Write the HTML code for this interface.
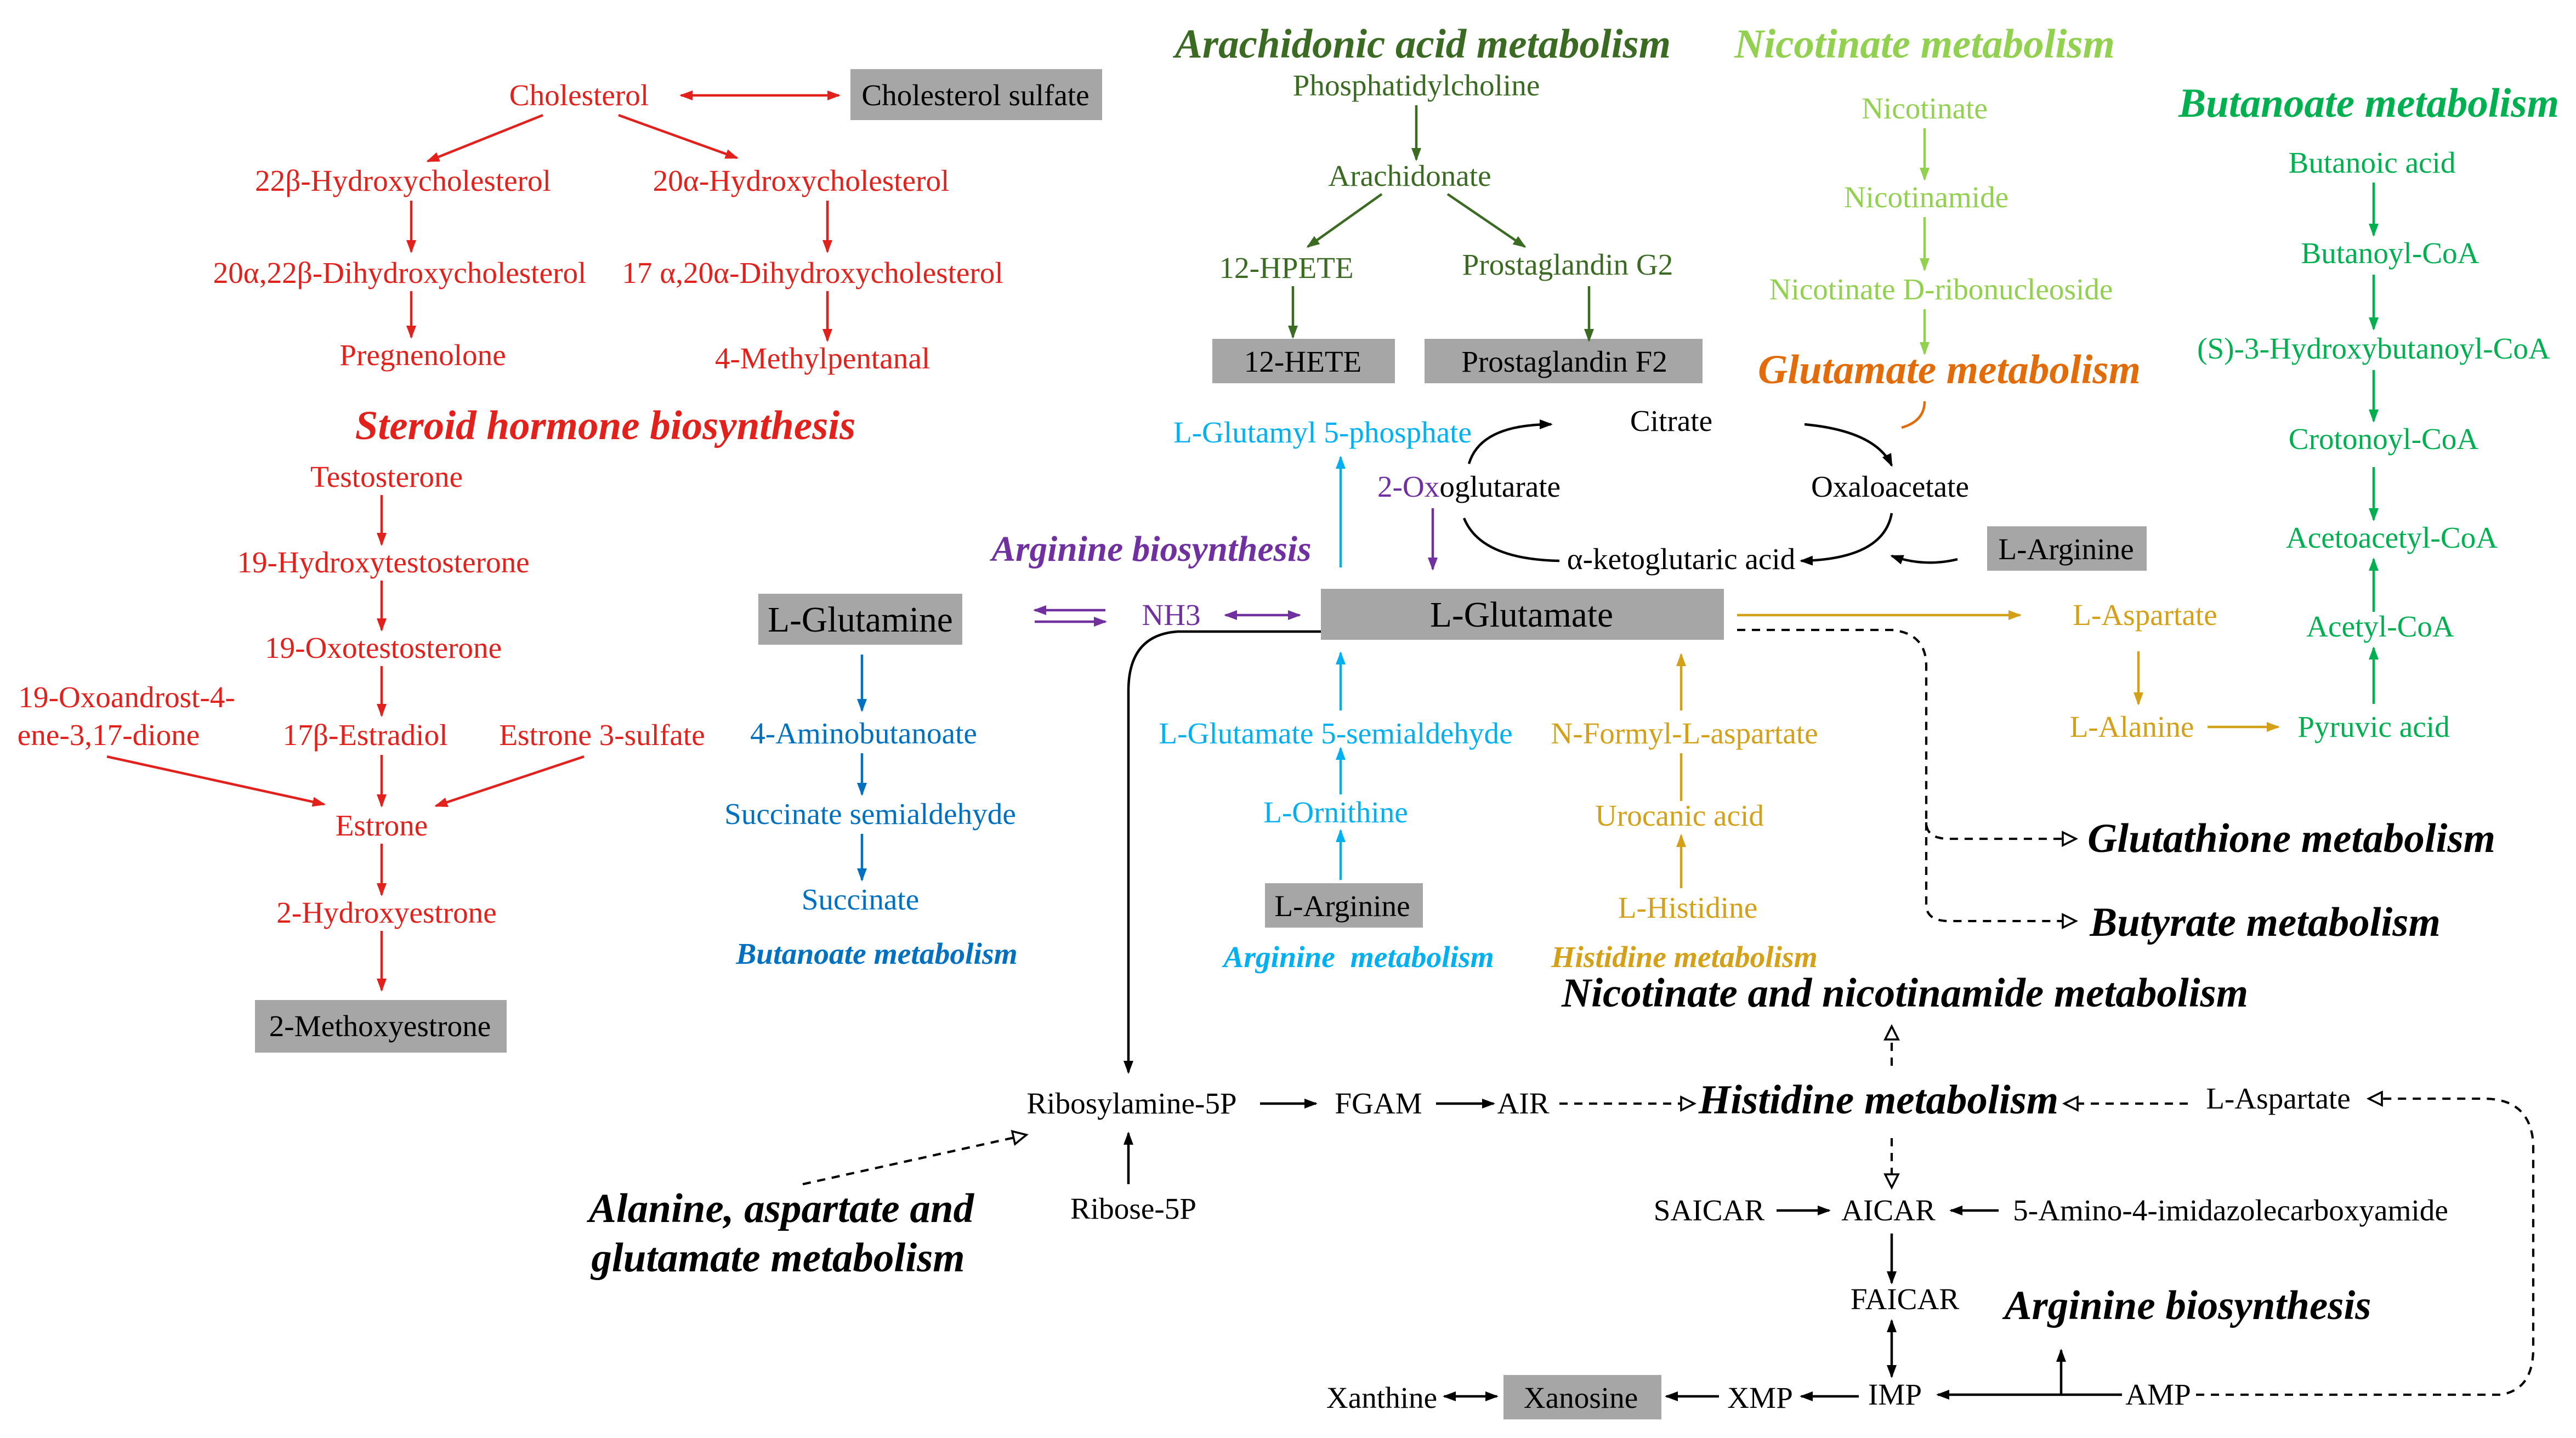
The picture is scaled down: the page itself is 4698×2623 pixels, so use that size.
<!DOCTYPE html>
<html><head><meta charset="utf-8"><style>
html,body{margin:0;padding:0;background:#fff;}
svg{display:block;}
text{font-family:"Liberation Serif",serif;font-size:18.4px;text-anchor:middle;}
.t{font-weight:bold;font-style:italic;font-size:25px;}
.s{font-weight:bold;font-style:italic;font-size:18.5px;}
</style></head><body>
<svg width="4698" height="2623" viewBox="0 0 1566 874.3" xmlns="http://www.w3.org/2000/svg">
<defs>
<marker id="r" markerWidth="8" markerHeight="8" refX="7" refY="4" orient="auto-start-reverse" markerUnits="userSpaceOnUse"><path d="M0,1 L8,4 L0,7z" fill="#e3211c"/></marker>
<marker id="dg" markerWidth="8" markerHeight="8" refX="7" refY="4" orient="auto-start-reverse" markerUnits="userSpaceOnUse"><path d="M0,1 L8,4 L0,7z" fill="#3b6b22"/></marker>
<marker id="lg" markerWidth="8" markerHeight="8" refX="7" refY="4" orient="auto-start-reverse" markerUnits="userSpaceOnUse"><path d="M0,1 L8,4 L0,7z" fill="#92d050"/></marker>
<marker id="g" markerWidth="8" markerHeight="8" refX="7" refY="4" orient="auto-start-reverse" markerUnits="userSpaceOnUse"><path d="M0,1 L8,4 L0,7z" fill="#00b050"/></marker>
<marker id="c" markerWidth="8" markerHeight="8" refX="7" refY="4" orient="auto-start-reverse" markerUnits="userSpaceOnUse"><path d="M0,1 L8,4 L0,7z" fill="#00b0f0"/></marker>
<marker id="b" markerWidth="8" markerHeight="8" refX="7" refY="4" orient="auto-start-reverse" markerUnits="userSpaceOnUse"><path d="M0,1 L8,4 L0,7z" fill="#0070c0"/></marker>
<marker id="p" markerWidth="8" markerHeight="8" refX="7" refY="4" orient="auto-start-reverse" markerUnits="userSpaceOnUse"><path d="M0,1 L8,4 L0,7z" fill="#7030a0"/></marker>
<marker id="y" markerWidth="8" markerHeight="8" refX="7" refY="4" orient="auto-start-reverse" markerUnits="userSpaceOnUse"><path d="M0,1 L8,4 L0,7z" fill="#d4a017"/></marker>
<marker id="k" markerWidth="8" markerHeight="8" refX="7" refY="4" orient="auto-start-reverse" markerUnits="userSpaceOnUse"><path d="M0,1 L8,4 L0,7z" fill="#000"/></marker>
<marker id="ko" markerWidth="11" markerHeight="10" refX="9" refY="5" orient="auto-start-reverse" markerUnits="userSpaceOnUse"><path d="M1,1 L9,5 L1,9z" fill="#fff" stroke="#000" stroke-width="1.2"/></marker>
</defs>

<g fill="#a6a6a6">
<rect x="517" y="42" width="153" height="31"/>
<rect x="155" y="608" width="153" height="32"/>
<rect x="737" y="206" width="111" height="27"/>
<rect x="866" y="206" width="169" height="27"/>
<rect x="1208" y="320" width="97" height="27"/>
<rect x="461" y="361" width="124" height="31"/>
<rect x="803" y="358" width="245" height="31"/>
<rect x="769" y="537" width="96" height="27"/>
<rect x="914" y="836" width="96" height="27"/>
</g>

<g fill="#e3211c">
<text x="352" y="64">Cholesterol</text>
<text x="245" y="116">22β-Hydroxycholesterol</text>
<text x="487" y="116">20α-Hydroxycholesterol</text>
<text x="243" y="172">20α,22β-Dihydroxycholesterol</text>
<text x="494" y="172">17 α,20α-Dihydroxycholesterol</text>
<text x="257" y="222">Pregnenolone</text>
<text x="500" y="224">4-Methylpentanal</text>
<text class="t" x="368" y="267">Steroid hormone biosynthesis</text>
<text x="235" y="296">Testosterone</text>
<text x="233" y="348">19-Hydroxytestosterone</text>
<text x="233" y="400">19-Oxotestosterone</text>
<text x="77" y="430">19-Oxoandrost-4-</text>
<text x="66" y="453">ene-3,17-dione</text>
<text x="222" y="453">17β-Estradiol</text>
<text x="366" y="453">Estrone 3-sulfate</text>
<text x="232" y="508">Estrone</text>
<text x="235" y="561">2-Hydroxyestrone</text>
</g>
<text x="593" y="64">Cholesterol sulfate</text>
<text x="231" y="630">2-Methoxyestrone</text>
<g stroke="#e3211c" stroke-width="1.5" fill="none" marker-end="url(#r)">
<line x1="414" y1="58" x2="510" y2="58" marker-start="url(#r)"/>
<line x1="330" y1="70" x2="260" y2="98"/>
<line x1="376" y1="70" x2="448" y2="96"/>
<line x1="250" y1="122" x2="250" y2="153"/>
<line x1="250" y1="177" x2="250" y2="205"/>
<line x1="503" y1="122" x2="503" y2="153"/>
<line x1="503" y1="177" x2="503" y2="207"/>
<line x1="232" y1="301" x2="232" y2="331"/>
<line x1="232" y1="353" x2="232" y2="383"/>
<line x1="232" y1="405" x2="232" y2="435"/>
<line x1="232" y1="459" x2="232" y2="490"/>
<line x1="232" y1="513" x2="232" y2="544"/>
<line x1="232" y1="566" x2="232" y2="602"/>
<line x1="65" y1="460" x2="197" y2="489"/>
<line x1="355" y1="460" x2="265" y2="490"/>
</g>

<g fill="#3b6b22">
<text class="t" x="865" y="35">Arachidonic acid metabolism</text>
<text x="861" y="58">Phosphatidylcholine</text>
<text x="857" y="113">Arachidonate</text>
<text x="782" y="169">12-HPETE</text>
<text x="953" y="167">Prostaglandin G2</text>
</g>
<text x="792" y="226">12-HETE</text>
<text x="951" y="226">Prostaglandin F2</text>
<g stroke="#3b6b22" stroke-width="1.5" marker-end="url(#dg)">
<line x1="861" y1="64" x2="861" y2="97"/>
<line x1="840" y1="118" x2="795" y2="150"/>
<line x1="880" y1="118" x2="927" y2="150"/>
<line x1="786" y1="174" x2="786" y2="205"/>
<line x1="966" y1="174" x2="966" y2="207"/>
</g>

<g fill="#92d050">
<text class="t" x="1170" y="35">Nicotinate metabolism</text>
<text x="1170" y="72">Nicotinate</text>
<text x="1171" y="126">Nicotinamide</text>
<text x="1180" y="182">Nicotinate D-ribonucleoside</text>
</g>
<g stroke="#92d050" stroke-width="1.5" marker-end="url(#lg)">
<line x1="1170" y1="78" x2="1170" y2="109"/>
<line x1="1170" y1="132" x2="1170" y2="164"/>
<line x1="1170" y1="188" x2="1170" y2="215"/>
</g>
<text class="t" x="1185" y="233" fill="#e26b0a">Glutamate metabolism</text>
<path d="M1170,244 Q1170,256 1156,260" stroke="#e26b0a" stroke-width="1.5" fill="none"/>

<g fill="#00b050">
<text class="t" x="1440" y="71">Butanoate metabolism</text>
<text x="1442" y="105">Butanoic acid</text>
<text x="1453" y="160">Butanoyl-CoA</text>
<text x="1443" y="218">(S)-3-Hydroxybutanoyl-CoA</text>
<text x="1449" y="273">Crotonoyl-CoA</text>
<text x="1454" y="333">Acetoacetyl-CoA</text>
<text x="1447" y="387">Acetyl-CoA</text>
<text x="1443" y="448">Pyruvic acid</text>
</g>
<g stroke="#00b050" stroke-width="1.5" marker-end="url(#g)">
<line x1="1443" y1="111" x2="1443" y2="143"/>
<line x1="1443" y1="167" x2="1443" y2="200"/>
<line x1="1443" y1="225" x2="1443" y2="256"/>
<line x1="1443" y1="284" x2="1443" y2="316"/>
<line x1="1443" y1="372" x2="1443" y2="340"/>
<line x1="1443" y1="428" x2="1443" y2="394"/>
</g>

<text x="1016" y="262">Citrate</text>
<text x="1149" y="302">Oxaloacetate</text>
<text x="1022" y="346">α-ketoglutaric acid</text>
<text x="893" y="302"><tspan fill="#7030a0">2-Ox</tspan>oglutarate</text>
<text x="1256" y="340">L-Arginine</text>
<g stroke="#000" stroke-width="1.5" fill="none" marker-end="url(#k)">
<path d="M893,282 Q900,258 943,258"/>
<path d="M1097,258 Q1140,262 1150,283"/>
<path d="M1150,312 Q1145,340 1095,341"/>
<path d="M948,341 Q900,340 890,315" marker-end="none"/>
<path d="M1190,340 Q1170,345 1150,338"/>
</g>

<text x="700" y="341" class="t" style="font-size:21.8px" fill="#7030a0">Arginine biosynthesis</text>
<text x="804" y="269" fill="#00b0f0">L-Glutamyl 5-phosphate</text>
<line x1="815" y1="345" x2="815" y2="278" stroke="#00b0f0" stroke-width="1.5" marker-end="url(#c)"/>
<line x1="871" y1="309" x2="871" y2="346" stroke="#7030a0" stroke-width="1.5" marker-end="url(#p)"/>
<text x="523" y="384" style="font-size:21.8px">L-Glutamine</text>
<text x="925" y="381" style="font-size:21.8px">L-Glutamate</text>
<text x="712" y="380" fill="#7030a0">NH3</text>
<g stroke="#7030a0" stroke-width="1.5" fill="none">
<line x1="672" y1="371" x2="629" y2="371" marker-end="url(#p)"/>
<line x1="629" y1="378" x2="672" y2="378" marker-end="url(#p)"/>
<line x1="745" y1="374" x2="790" y2="374" marker-end="url(#p)" marker-start="url(#p)"/>
</g>
<line x1="1056" y1="374" x2="1228" y2="374" stroke="#d4a017" stroke-width="1.5" marker-end="url(#y)"/>
<g fill="#d4a017">
<text x="1304" y="380">L-Aspartate</text>
<text x="1296" y="448">L-Alanine</text>
<text x="1024" y="452">N-Formyl-L-aspartate</text>
<text x="1021" y="502">Urocanic acid</text>
<text x="1026" y="558">L-Histidine</text>
<text x="1024" y="588" class="s">Histidine metabolism</text>
</g>
<g stroke="#d4a017" stroke-width="1.5" marker-end="url(#y)">
<line x1="1300" y1="396" x2="1300" y2="428"/>
<line x1="1342" y1="442" x2="1385" y2="442"/>
<line x1="1022" y1="432" x2="1022" y2="398"/>
<line x1="1022" y1="540" x2="1022" y2="508"/>
</g>
<line x1="1022" y1="487" x2="1022" y2="458" stroke="#d4a017" stroke-width="1.5"/>

<g stroke="#000" stroke-width="1.4" fill="none" stroke-dasharray="5,4">
<path d="M1056,383 L1150,383 Q1171,385 1171,405 L1171,500 Q1171,510 1185,510 L1262,510" marker-end="url(#ko)"/>
<path d="M1171,500 L1171,550 Q1171,560 1185,560 L1262,560" marker-end="url(#ko)"/>
</g>
<text class="t" x="1393" y="518">Glutathione metabolism</text>
<text class="t" x="1377" y="569">Butyrate metabolism</text>

<g fill="#0070c0">
<text x="525" y="452">4-Aminobutanoate</text>
<text x="529" y="501">Succinate semialdehyde</text>
<text x="523" y="553">Succinate</text>
<text x="533" y="586" class="s">Butanoate metabolism</text>
</g>
<g stroke="#0070c0" stroke-width="1.5" marker-end="url(#b)">
<line x1="524" y1="398" x2="524" y2="432"/>
<line x1="524" y1="458" x2="524" y2="483"/>
<line x1="524" y1="507" x2="524" y2="535"/>
</g>

<g fill="#00b0f0">
<text x="812" y="452">L-Glutamate 5-semialdehyde</text>
<text x="812" y="500">L-Ornithine</text>
<text x="826" y="588" class="s">Arginine&#160; metabolism</text>
</g>
<text x="816" y="557">L-Arginine</text>
<g stroke="#00b0f0" stroke-width="1.5" marker-end="url(#c)">
<line x1="815" y1="432" x2="815" y2="397"/>
<line x1="815" y1="483" x2="815" y2="455"/>
<line x1="815" y1="535" x2="815" y2="505"/>
</g>

<text class="t" x="1158" y="612">Nicotinate and nicotinamide metabolism</text>

<path d="M803,384 L716,384 Q686,386 686,420 L686,652" stroke="#000" stroke-width="1.5" fill="none" marker-end="url(#k)"/>
<text x="688" y="677">Ribosylamine-5P</text>
<text x="838" y="677">FGAM</text>
<text x="926" y="677">AIR</text>
<text class="t" x="1142" y="677">Histidine metabolism</text>
<text x="1385" y="674">L-Aspartate</text>
<text x="689" y="741">Ribose-5P</text>
<text class="t" x="475" y="743">Alanine, aspartate and</text>
<text class="t" x="473" y="773">glutamate metabolism</text>
<text x="1039" y="742">SAICAR</text>
<text x="1148" y="742">AICAR</text>
<text x="1356" y="742">5-Amino-4-imidazolecarboxyamide</text>
<text x="1158" y="796">FAICAR</text>
<text class="t" x="1330" y="802">Arginine biosynthesis</text>
<text x="1152" y="854">IMP</text>
<text x="1312" y="854">AMP</text>
<text x="1070" y="856">XMP</text>
<text x="961" y="856">Xanosine</text>
<text x="840" y="856">Xanthine</text>
<g stroke="#000" stroke-width="1.5" fill="none" marker-end="url(#k)">
<line x1="766" y1="671" x2="800" y2="671"/>
<line x1="873" y1="671" x2="908" y2="671"/>
<line x1="686" y1="720" x2="686" y2="689"/>
<line x1="1080" y1="736" x2="1112" y2="736"/>
<line x1="1215" y1="736" x2="1186" y2="736"/>
<line x1="1150" y1="750" x2="1150" y2="780"/>
<line x1="1150" y1="803" x2="1150" y2="837" marker-start="url(#k)"/>
<line x1="1290" y1="848" x2="1178" y2="848"/>
<path d="M1253,848 L1253,821"/>
<line x1="1130" y1="849" x2="1095" y2="849"/>
<line x1="1045" y1="849" x2="1013" y2="849"/>
<line x1="878" y1="849" x2="910" y2="849" marker-start="url(#k)"/>
</g>
<g stroke="#000" stroke-width="1.4" fill="none" stroke-dasharray="5,4">
<line x1="948" y1="671" x2="1030" y2="671" marker-end="url(#ko)"/>
<line x1="1330" y1="671" x2="1255" y2="671" marker-end="url(#ko)"/>
<line x1="1150" y1="648" x2="1150" y2="624" marker-end="url(#ko)"/>
<line x1="1150" y1="692" x2="1150" y2="722" marker-end="url(#ko)"/>
<line x1="488" y1="720" x2="624" y2="690" marker-end="url(#ko)"/>
<path d="M1335,848 L1520,848 Q1540,845 1540,820 L1540,695 Q1538,668 1510,668 L1440,668" marker-end="url(#ko)"/>
</g>
</svg>
</body></html>
